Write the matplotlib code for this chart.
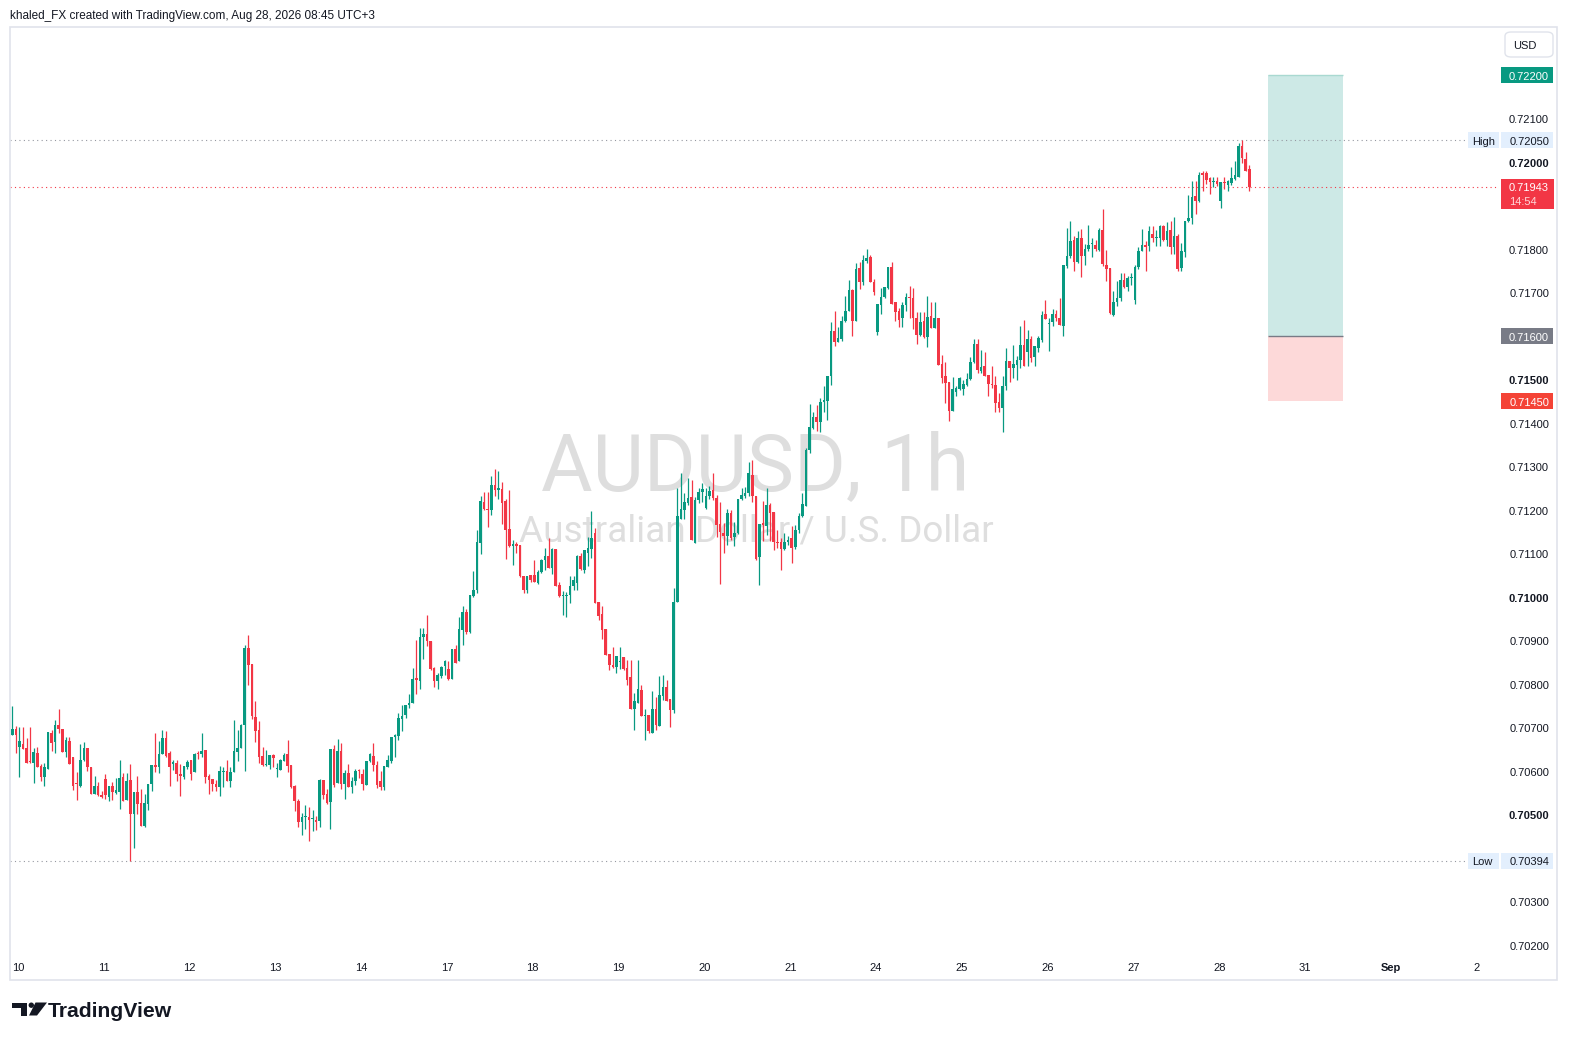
import matplotlib
matplotlib.use("Agg")
import matplotlib.pyplot as plt
import matplotlib.patches as mpatches
from matplotlib.transforms import blended_transform_factory, offset_copy
import numpy as np

# AUDUSD 1h candles, values in points (1e-5) above 0.70000
opens_pts = [683,697,654,662,653,621,619,641,612,587,605,687,667,706,697,644,669,633,570,566,
    625,653,609,548,566,545,582,541,566,550,552,586,534,579,502,552,527,474,523,569,
    614,608,639,676,641,617,618,592,587,610,625,598,641,638,648,589,582,571,564,598,
    600,578,598,644,653,706,883,846,724,695,635,614,614,637,604,603,624,639,614,566,
    530,482,495,494,489,488,484,580,547,528,650,572,646,570,595,564,576,601,593,568,
    622,635,614,576,564,609,624,678,681,720,729,752,757,813,806,907,915,898,836,806,
    818,842,834,812,881,852,923,965,919,1002,1015,1125,1219,1202,1200,1258,1245,1248,1221,1156,
    1116,1122,1120,1048,1016,1051,1051,1033,1058,1085,1093,1066,1110,1028,1003,1003,1005,1024,1033,1093,
    1062,1102,1110,1146,989,961,926,869,844,839,851,863,836,816,742,757,786,727,729,688,
    742,704,773,793,765,739,989,1180,1200,1217,1229,1125,1222,1242,1204,1231,1246,1227,1167,1148,
    1139,1194,1137,1146,1225,1232,1238,1281,1232,1091,1170,1164,1212,1196,1127,1127,1110,1127,1135,1114,
    1154,1185,1208,1337,1388,1413,1403,1447,1451,1507,1612,1585,1593,1635,1658,1706,1635,1756,1723,1773,
    1782,1725,1608,1671,1689,1710,1758,1677,1658,1641,1671,1689,1687,1641,1602,1635,1597,1646,1618,1641,
    1536,1507,1495,1428,1472,1477,1477,1488,1501,1539,1582,1520,1530,1510,1490,1488,1447,1434,1484,1543,
    1526,1533,1544,1580,1564,1593,1551,1572,1591,1651,1628,1631,1651,1641,1622,1761,1784,1821,1769,1825,
    1783,1799,1811,1809,1798,1844,1763,1756,1648,1678,1687,1729,1712,1732,1683,1759,1794,1809,1807,1835,
    1825,1825,1853,1821,1844,1805,1830,1756,1792,1863,1871,1922,1909,1974,1974,1962,1953,1957,1911,1953,
    1947,1951,1960,1966,2037,2007,1984]
highs_pts = [749,703,701,701,675,701,653,655,616,618,690,694,717,742,697,678,678,633,597,662,
    667,653,609,588,575,555,593,566,575,584,625,595,595,616,552,588,559,548,570,614,
    687,669,694,692,646,625,625,617,612,625,625,641,646,687,648,594,582,580,611,610,
    625,610,717,694,708,890,913,847,761,714,656,649,637,639,618,628,642,672,614,568,
    535,503,522,517,511,497,581,580,558,650,660,674,664,603,616,587,604,604,604,622,
    642,664,622,600,612,637,679,685,733,752,752,777,836,900,928,928,959,898,839,825,
    842,855,852,881,890,955,979,973,1005,1060,1154,1232,1242,1242,1277,1294,1290,1265,1225,1246,
    1131,1127,1120,1048,1048,1051,1085,1062,1087,1112,1135,1112,1110,1035,1014,1012,1047,1048,1097,1100,
    1108,1137,1198,1158,989,980,926,869,886,865,885,863,855,855,779,854,798,742,729,783,
    771,819,821,808,765,1020,1250,1286,1240,1273,1269,1229,1250,1261,1250,1254,1284,1235,1219,1169,
    1202,1200,1173,1225,1250,1252,1311,1315,1232,1168,1220,1250,1217,1196,1154,1135,1147,1140,1162,1166,
    1193,1238,1342,1444,1426,1441,1457,1484,1507,1631,1658,1620,1646,1692,1729,1707,1767,1769,1786,1799,
    1786,1730,1674,1710,1712,1758,1769,1677,1664,1679,1698,1715,1710,1654,1654,1656,1692,1679,1679,1641,
    1556,1541,1495,1505,1484,1505,1499,1514,1551,1592,1592,1568,1564,1510,1531,1508,1468,1507,1572,1543,
    1580,1553,1623,1636,1614,1600,1577,1600,1658,1683,1641,1662,1660,1687,1763,1848,1865,1830,1840,1845,
    1812,1855,1825,1821,1847,1891,1798,1756,1704,1727,1744,1744,1737,1744,1763,1804,1845,1819,1853,1853,
    1844,1855,1855,1861,1863,1873,1835,1813,1865,1924,1955,1957,1976,1978,1978,1966,1966,1966,1953,1966,
    1959,1989,2002,2043,2050,2022,1992]
lows_pts = [683,642,587,651,619,619,573,610,578,566,605,647,642,688,644,633,617,557,534,564,
    624,601,546,546,543,539,536,532,534,548,513,532,534,394,422,502,474,472,511,555,
    598,596,639,633,566,603,578,543,582,605,580,598,628,633,573,546,555,555,543,564,
    578,564,598,624,653,601,798,720,667,618,612,612,604,610,587,603,624,597,560,507,
    472,453,466,440,463,465,471,535,524,467,563,572,558,535,564,550,568,583,557,568,
    620,601,560,557,557,609,619,633,672,693,721,744,757,777,789,858,888,832,792,789,
    813,821,808,812,848,852,890,915,917,1001,1010,1098,1199,1160,1189,1232,1225,1168,1087,1114,
    1074,1102,1045,1010,1010,1035,1035,1030,1055,1062,1066,1053,1025,1001,959,955,986,1015,1015,1062,
    1055,1070,1089,987,947,903,867,831,836,825,834,832,798,742,695,757,727,672,688,688,
    695,704,762,760,702,733,989,1180,1179,1212,1131,1123,1217,1219,1202,1225,1223,1137,1030,1100,
    1120,1131,1117,1145,1222,1227,1231,1219,1084,1028,1128,1143,1128,1108,1112,1061,1108,1120,1078,1110,
    1147,1183,1208,1331,1386,1382,1380,1426,1407,1487,1577,1585,1589,1633,1658,1599,1635,1707,1717,1767,
    1723,1694,1602,1651,1687,1707,1674,1635,1620,1620,1658,1641,1615,1582,1599,1595,1575,1618,1618,1533,
    1491,1445,1405,1428,1461,1476,1465,1484,1499,1537,1514,1514,1507,1461,1480,1426,1424,1378,1476,1495,
    1503,1498,1526,1530,1530,1539,1530,1564,1587,1638,1566,1623,1635,1625,1599,1756,1779,1750,1767,1736,
    1763,1794,1781,1794,1794,1760,1727,1651,1645,1669,1681,1710,1704,1717,1674,1753,1794,1750,1794,1815,
    1807,1807,1819,1807,1789,1789,1750,1750,1781,1861,1858,1881,1907,1934,1950,1926,1942,1945,1894,1937,
    1932,1947,1959,1965,1997,1978,1932]
closes_pts = [697,683,669,651,619,620,644,610,587,610,690,665,706,697,644,671,617,566,569,625,
    653,608,548,566,545,541,545,566,552,556,584,532,577,502,552,523,474,527,570,614,
    608,639,676,635,610,618,592,589,612,621,594,639,638,646,587,580,569,564,600,600,
    578,598,646,653,706,883,844,727,693,633,614,617,637,629,605,626,637,612,564,530,
    482,494,496,488,490,482,580,545,526,650,568,646,570,595,564,576,601,599,570,622,
    639,614,568,564,612,626,678,683,721,727,752,756,812,808,907,915,898,834,806,821,
    839,853,812,881,849,926,965,919,1005,1016,1127,1221,1202,1199,1258,1245,1250,1217,1154,1116,
    1122,1117,1047,1016,1047,1038,1035,1058,1085,1094,1066,1110,1025,1002,1005,1005,1024,1038,1093,1064,
    1107,1112,1135,987,957,923,867,844,840,865,852,834,809,742,760,788,727,728,691,742,
    706,775,793,760,739,989,1186,1202,1219,1228,1131,1223,1242,1248,1232,1244,1227,1166,1150,1139,
    1194,1135,1148,1225,1235,1238,1284,1231,1087,1168,1166,1212,1194,1127,1124,1110,1127,1131,1112,1154,
    1186,1213,1338,1390,1413,1403,1448,1453,1507,1612,1585,1596,1635,1658,1706,1635,1753,1723,1775,1779,
    1725,1702,1674,1689,1712,1758,1674,1656,1637,1671,1689,1687,1641,1602,1633,1597,1643,1618,1641,1533,
    1503,1491,1428,1477,1480,1503,1490,1501,1541,1582,1522,1528,1508,1490,1488,1445,1434,1485,1543,1526,
    1535,1545,1580,1530,1593,1549,1576,1595,1648,1638,1630,1651,1641,1625,1763,1784,1817,1769,1825,1783,
    1799,1809,1812,1799,1844,1766,1753,1652,1678,1687,1729,1712,1733,1733,1759,1796,1809,1805,1840,1825,
    1826,1853,1821,1840,1805,1829,1754,1794,1865,1871,1920,1909,1970,1970,1959,1953,1957,1950,1953,1951,
    1955,1962,1969,2037,2008,1980,1943]

day_labels = ["10", "11", "12", "13", "14", "17", "18", "19", "20", "21",
              "24", "25", "26", "27", "28", "31", "Sep", "2"]
price_ticks = [0.702, 0.703, 0.705, 0.706, 0.707, 0.708, 0.709, 0.710, 0.711, 0.712,
               0.713, 0.714, 0.715, 0.717, 0.718, 0.720, 0.721]
bold_ticks = [0.705, 0.710, 0.715, 0.720]

last_price = 0.71943
countdown = "14:54"
session_high = 0.72050
session_low = 0.70394
entry_price = 0.71600
target_price = 0.72200
stop_price = 0.71450

GREEN = "#089981"
RED = "#f23645"
GREY = "#787b86"

W, H = 1569, 1041
fig = plt.figure(figsize=(W / 100, H / 100), dpi=100)
fig.patch.set_facecolor("white")

def fx(px):
    return px / W

def fy(py):
    return 1 - py / H

ax = fig.add_axes([fx(10), fy(955), fx(1497) - fx(10), fy(27) - fy(955)])
ax.set_axis_off()
ax.set_xlim(-0.64, 415.3)
ax.set_ylim(0.70177, 0.72310)

o = 0.7 + np.array(opens_pts) / 1e5
h = 0.7 + np.array(highs_pts) / 1e5
l = 0.7 + np.array(lows_pts) / 1e5
c = 0.7 + np.array(closes_pts) / 1e5
x = np.arange(len(c))
cols = np.where(c >= o, GREEN, RED)

ax.vlines(x, l, h, colors=cols, linewidth=0.9, zorder=3)
body = np.maximum(np.abs(c - o), 0.000025)
ax.bar(x, body, bottom=np.minimum(o, c), width=0.72, color=cols, linewidth=0, zorder=4)

# watermark
ax.text(fx(755), fy(468), "AUDUSD, 1h", transform=fig.transFigure, ha="center", va="center",
        fontsize=57, color="#dedede", family="Roboto", zorder=1)
ax.text(fx(756), fy(532), "Australian Dollar / U.S. Dollar", transform=fig.transFigure,
        ha="center", va="center", fontsize=26.6, color="#dedede", family="Roboto", zorder=1)

# long position tool
pos_x0, pos_x1 = 351.2, 372.2
ax.add_patch(mpatches.Rectangle((pos_x0, entry_price), pos_x1 - pos_x0, target_price - entry_price,
                                facecolor="#cde9e6", edgecolor="none", zorder=2))
ax.add_patch(mpatches.Rectangle((pos_x0, stop_price), pos_x1 - pos_x0, entry_price - stop_price,
                                facecolor="#fdd9d9", edgecolor="none", zorder=2))
ax.hlines(entry_price, pos_x0, pos_x1, colors=GREY, linewidth=1, zorder=2.2)
ax.hlines(target_price, pos_x0, pos_x1, colors="#a9d9d1", linewidth=1, zorder=2.2)

# high / low / last lines
ax.hlines(session_high, -0.64, 407.2, colors="#9598a1", linewidth=0.8, linestyles=(0, (1, 3)), zorder=2.5)
ax.hlines(session_low, -0.64, 407.2, colors="#9598a1", linewidth=0.8, linestyles=(0, (1, 3)), zorder=2.5)
ax.hlines(last_price, -0.64, 415.3, colors=RED, linewidth=0.8, linestyles=(0, (1, 3)), zorder=2.5)

fig.canvas.draw()

def ypix(price):
    return H - ax.transData.transform((0, price))[1]

def xpix(idx):
    return ax.transData.transform((idx, 0))[0]

def box(x0, x1, y0, y1, face, edge="none"):
    fig.add_artist(mpatches.Rectangle((fx(x0), fy(y1)), fx(x1) - fx(x0), fy(y0) - fy(y1),
                                      transform=fig.transFigure, facecolor=face, edgecolor=edge,
                                      linewidth=1))

lab_font = dict(family="Liberation Sans", fontsize=8)
DY = 1.8  # text sits a little lower than its bbox centre

def label(px, py, text, ha="left", **kw):
    fig.text(fx(px), fy(py + DY), text, ha=ha, va="center", **{**lab_font, **kw})

# price scale
ytr = offset_copy(blended_transform_factory(fig.transFigure, ax.transData), fig=fig,
                  x=0, y=-DY, units="dots")
for p in price_ticks:
    fig.text(fx(1549), p, f"{p:.5f}", transform=ytr, ha="right", va="center",
             color="#131722", fontweight="bold" if p in bold_ticks else "normal", **lab_font)

def badge(price, text, face, tcolor="white", h2=8):
    py = ypix(price)
    box(1501, 1553, py - h2, py + h2, face)
    label(1549, py, text, ha="right", color=tcolor)

badge(target_price, "0.72200", GREEN)
badge(entry_price, "0.71600", GREY)
badge(stop_price, "0.71450", "#f44336")

py = ypix(last_price)
box(1501, 1554, py - 8, py + 22, RED)
label(1549, py, "0.71943", ha="right", color="white")
label(1509, py + 14, countdown, color="#ffd6d9")

for price, name, txt in [(session_high, "High", "0.72050"), (session_low, "Low", "0.70394")]:
    py = ypix(price)
    box(1468, 1499, py - 8, py + 8, "#e3effd")
    box(1501, 1553, py - 8, py + 8, "#e3effd")
    label(1472, py, name, color="#131722")
    label(1549, py, txt, ha="right", color="#131722")

# USD button
fig.add_artist(mpatches.FancyBboxPatch((fx(1505), fy(57)), fx(1553) - fx(1505), fy(32) - fy(57),
                                       boxstyle="round,pad=0,rounding_size=0.004",
                                       transform=fig.transFigure, facecolor="white",
                                       edgecolor="#e0e3eb", linewidth=1))
label(1513, 44.5, "USD", color="#131722")

# time scale
for k, lab in enumerate(day_labels):
    label(xpix(24 * k + 1.6), 966, lab, ha="center", color="#131722",
          fontweight="bold" if lab == "Sep" else "normal")

# outer frame
fig.add_artist(mpatches.Rectangle((fx(10), fy(980)), fx(1557) - fx(10), fy(27) - fy(980),
                                  transform=fig.transFigure, facecolor="none",
                                  edgecolor="#e0e3eb", linewidth=1.2))

# header
fig.text(fx(10), fy(14 + DY), "khaled_FX created with TradingView.com, Aug 28, 2026 08:45 UTC+3",
         ha="left", va="center", color="#131722", family="Liberation Sans", fontsize=8.5)

# TradingView logo
def poly(pts):
    fig.add_artist(mpatches.Polygon([(fx(a), fy(b)) for a, b in pts], closed=True,
                                    transform=fig.transFigure, facecolor="#131722", edgecolor="none"))

poly([(12.3, 1002.5), (27.3, 1002.5), (27.3, 1015.5), (20.5, 1015.5), (20.5, 1007.5), (12.3, 1007.5)])
fig.add_artist(mpatches.Ellipse((fx(31.3), fy(1005.2)), fx(5.4), 5.4 / H, transform=fig.transFigure,
                                facecolor="#131722", edgecolor="none"))
poly([(35.5, 1002.5), (47.0, 1002.5), (37.0, 1015.5), (29.0, 1015.5)])
fig.text(fx(48), fy(1011.5), "TradingView", ha="left", va="center", color="#131722",
         family="Liberation Sans", fontweight="bold", fontsize=15.2)

fig.savefig("out.png", dpi=100)
